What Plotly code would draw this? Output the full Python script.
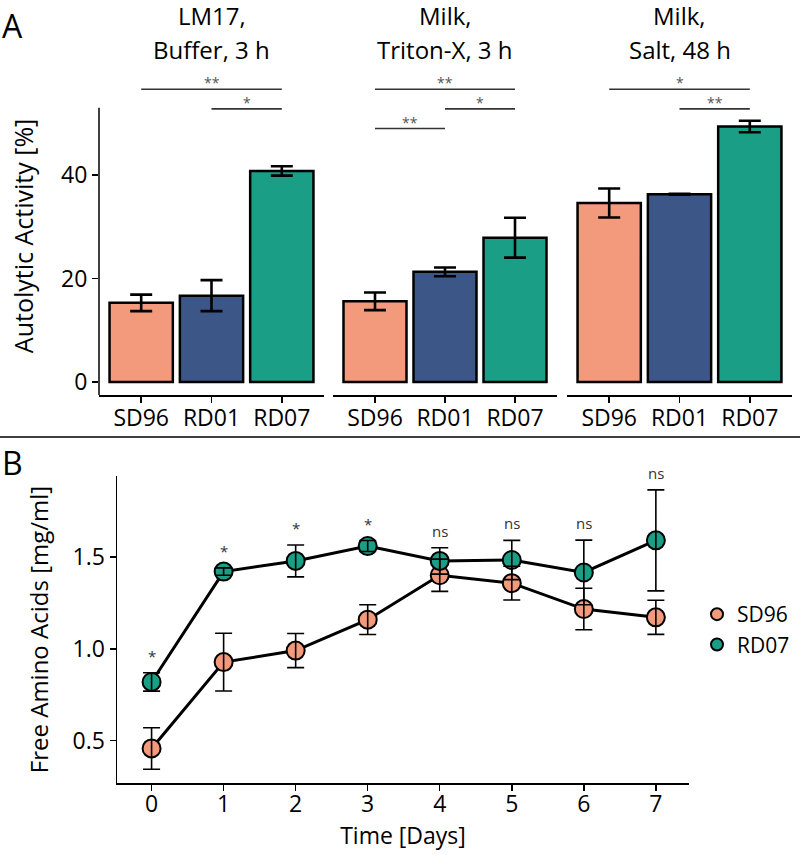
import plotly.graph_objects as go

# ---------------- data ----------------
strains = ["SD96", "RD01", "RD07"]
facet_title_1 = ["LM17,", "Milk,", "Milk,"]
facet_title_2 = ["Buffer, 3 h", "Triton-X, 3 h", "Salt, 48 h"]

lm17_mean = [15.3, 16.7, 40.8]
lm17_err = [1.6, 3.0, 0.9]
triton_mean = [15.6, 21.3, 27.9]
triton_err = [1.7, 0.85, 3.85]
salt_mean = [34.6, 36.3, 49.4]
salt_err = [2.8, 0.1, 1.1]

# significance brackets: (from index, to index, label, tier)
lm17_sig = [(0, 2, "**", 0), (1, 2, "*", 1)]
triton_sig = [(0, 2, "**", 0), (1, 2, "*", 1), (0, 1, "**", 2)]
salt_sig = [(0, 2, "*", 0), (1, 2, "**", 1)]

days = [0, 1, 2, 3, 4, 5, 6, 7]
sd96_mean = [0.458, 0.928, 0.991, 1.159, 1.401, 1.358, 1.217, 1.172]
sd96_err = [0.113, 0.157, 0.093, 0.081, 0.088, 0.092, 0.113, 0.093]
rd07_mean = [0.820, 1.421, 1.479, 1.560, 1.479, 1.484, 1.416, 1.591]
rd07_err = [0.050, 0.020, 0.087, 0.030, 0.072, 0.107, 0.176, 0.275]
day_sig = ["*", "*", "*", "*", "ns", "ns", "ns", "ns"]

# ---------------- style ----------------
colors = {"SD96": "#F3997C", "RD01": "#3C5687", "RD07": "#1B9E86"}
FONT = "Open Sans"
W, H = 800, 855


def px_x(p):
    return p / W


def px_y(p):
    return 1 - p / H


means = [lm17_mean, triton_mean, salt_mean]
errs = [lm17_err, triton_err, salt_err]
sigs = [lm17_sig, triton_sig, salt_sig]

# y scale panel A (ggplot-like 5% expansion)
a_max = max(m + e for ms, es in zip(means, errs) for m, e in zip(ms, es))
a_lo = -0.05 * a_max
a_top = 1.05 * a_max
a_ext = 59.0  # extended range to host the brackets
a_bot_px, a_top_px = 396, 108
a_scale = (a_bot_px - a_top_px) / (a_top - a_lo)
a_ext_px = a_bot_px - (a_ext - a_lo) * a_scale
bracket_top, bracket_step = 56.6, 3.8

facet_px = [(99, 324), (333, 557), (567, 792)]

fig = go.Figure()
shapes = []
annotations = []

for k in range(3):
    xa = "x" if k == 0 else f"x{k + 1}"
    fig.add_trace(go.Bar(
        x=strains, y=means[k], xaxis=xa, yaxis="y",
        marker=dict(color=[colors[s] for s in strains],
                    line=dict(color="black", width=2.5)),
        width=0.9,
        error_y=dict(type="data", array=errs[k], color="black",
                     thickness=2.6, width=11),
        showlegend=False,
    ))
    xkey = "xaxis" if k == 0 else f"xaxis{k + 1}"
    fig.layout[xkey] = dict(
        domain=[px_x(facet_px[k][0]), px_x(facet_px[k][1])],
        anchor="y", range=[-0.6, 2.6], type="category",
        categoryorder="array", categoryarray=strains,
        showline=True, linecolor="black", linewidth=1.5,
        ticks="outside", ticklen=6, tickwidth=1.5, tickcolor="black",
        showgrid=False, zeroline=False, ticklabelstandoff=-4,
        tickfont=dict(family=FONT, size=23, color="black"),
    )
    # facet titles
    annotations.append(dict(text=facet_title_1[k], xref=f"{xa} domain", x=0.5,
                            yref="paper", y=px_y(16), yanchor="middle",
                            showarrow=False,
                            font=dict(family=FONT, size=24, color="black")))
    annotations.append(dict(text=facet_title_2[k], xref=f"{xa} domain", x=0.5,
                            yref="paper", y=px_y(50), yanchor="middle",
                            showarrow=False,
                            font=dict(family=FONT, size=24, color="black")))
    # significance brackets
    for (i, j, lab, tier) in sigs[k]:
        yv = bracket_top - tier * bracket_step
        shapes.append(dict(type="line", xref=xa, yref="y",
                           x0=i, x1=j, y0=yv, y1=yv,
                           line=dict(color="#333333", width=1.6)))
        annotations.append(dict(text=lab, xref=xa, yref="y",
                                x=(i + j) / 2, y=yv, yanchor="bottom",
                                yshift=-5, showarrow=False,
                                font=dict(family=FONT, size=14, color="#555555")))

# y axis line of panel A drawn only over the data range
shapes.append(dict(type="line", xref="x domain", x0=0, x1=0, yref="y",
                   y0=a_lo, y1=a_top, line=dict(color="black", width=1.5)))

fig.layout.yaxis = dict(
    domain=[px_y(a_bot_px), px_y(a_ext_px)], anchor="x",
    range=[a_lo, a_ext], tickvals=[0, 20, 40],
    showline=False, ticks="outside", ticklen=6, tickwidth=1.5,
    tickcolor="black", showgrid=False, zeroline=False,
    tickfont=dict(family=FONT, size=23, color="black"),
    title=dict(text="Autolytic Activity [%]",
               font=dict(family=FONT, size=25, color="black"), standoff=20),
)

# ---------------- panel B ----------------
for name, mean in [("SD96", sd96_mean), ("RD07", rd07_mean)]:
    fig.add_trace(go.Scatter(
        x=days, y=mean, xaxis="x4", yaxis="y4", mode="lines+markers",
        line=dict(color="black", width=3),
        marker=dict(color=colors[name], size=18,
                    line=dict(color="black", width=2)),
        showlegend=False, name=name,
    ))
for name, mean, err in [("SD96", sd96_mean, sd96_err), ("RD07", rd07_mean, rd07_err)]:
    fig.add_trace(go.Scatter(
        x=days, y=mean, xaxis="x4", yaxis="y4", mode="markers",
        marker=dict(size=2, opacity=0),
        error_y=dict(type="data", array=err, color="black",
                     thickness=1.6, width=8.5),
        showlegend=False, hoverinfo="skip",
    ))
for name in ["SD96", "RD07"]:
    fig.add_trace(go.Scatter(
        x=[None], y=[None], xaxis="x4", yaxis="y4", mode="markers",
        marker=dict(color=colors[name], size=14,
                    line=dict(color="black", width=2)),
        name=name, showlegend=True,
    ))

tops = [max(a + b, c + d) for a, b, c, d in zip(sd96_mean, sd96_err, rd07_mean, rd07_err)]
for d, t, lab in zip(days, tops, day_sig):
    annotations.append(dict(text=lab, xref="x4", yref="y4", x=d, y=t,
                            yanchor="bottom", yshift=5 if lab == "ns" else 5,
                            showarrow=False,
                            font=dict(family=FONT, size=15, color="#333333")))

b_lo = min(m - e for m, e in zip(sd96_mean + rd07_mean, sd96_err + rd07_err))
b_hi = max(tops)
b_pad = 0.05 * (b_hi - b_lo)

fig.layout.xaxis4 = dict(
    domain=[px_x(117), px_x(689)], anchor="y4", range=[-0.48, 7.46],
    tickvals=days, showline=True, linecolor="black", linewidth=1.5,
    ticks="outside", ticklen=6, tickwidth=1.5, tickcolor="black",
    showgrid=False, zeroline=False, ticklabelstandoff=-6,
    tickfont=dict(family=FONT, size=23, color="black"),
    title=dict(text="Time [Days]", font=dict(family=FONT, size=23, color="black"),
               standoff=6),
)
fig.layout.yaxis4 = dict(
    domain=[px_y(785), px_y(477)], anchor="x4",
    range=[b_lo - b_pad, b_hi + b_pad], tickvals=[0.5, 1.0, 1.5],
    tickformat=".1f", showline=True, linecolor="black", linewidth=1.5,
    ticks="outside", ticklen=6, tickwidth=1.5, tickcolor="black",
    showgrid=False, zeroline=False,
    tickfont=dict(family=FONT, size=23, color="black"),
    title=dict(text="Free Amino Acids [mg/ml]",
               font=dict(family=FONT, size=24, color="black"), standoff=17),
)

# panel divider and labels
shapes.append(dict(type="line", xref="paper", yref="paper", x0=0, x1=1,
                   y0=px_y(438), y1=px_y(438), line=dict(color="black", width=1.6)))
annotations.append(dict(text="A", xref="paper", yref="paper", x=0, y=px_y(2),
                        xanchor="left", yanchor="top", showarrow=False,
                        font=dict(family=FONT, size=32, color="black")))
annotations.append(dict(text="B", xref="paper", yref="paper", x=0, y=px_y(440),
                        xanchor="left", yanchor="top", showarrow=False,
                        font=dict(family=FONT, size=32, color="black")))

fig.update_layout(
    width=W, height=H, margin=dict(l=0, r=0, t=0, b=0),
    paper_bgcolor="white", plot_bgcolor="white",
    shapes=shapes, annotations=annotations,
    showlegend=True,
    legend=dict(x=px_x(697), y=px_y(631), xanchor="left", yanchor="middle",
                font=dict(family=FONT, size=21, color="black"),
                itemsizing="constant", bgcolor="rgba(0,0,0,0)",
                tracegroupgap=0),
    font=dict(family=FONT),
    hovermode=False,
)

fig.write_html("out.html",
               config={"displayModeBar": False, "staticPlot": True},
               post_script="document.body.style.margin='0';document.body.style.overflow='hidden';")
